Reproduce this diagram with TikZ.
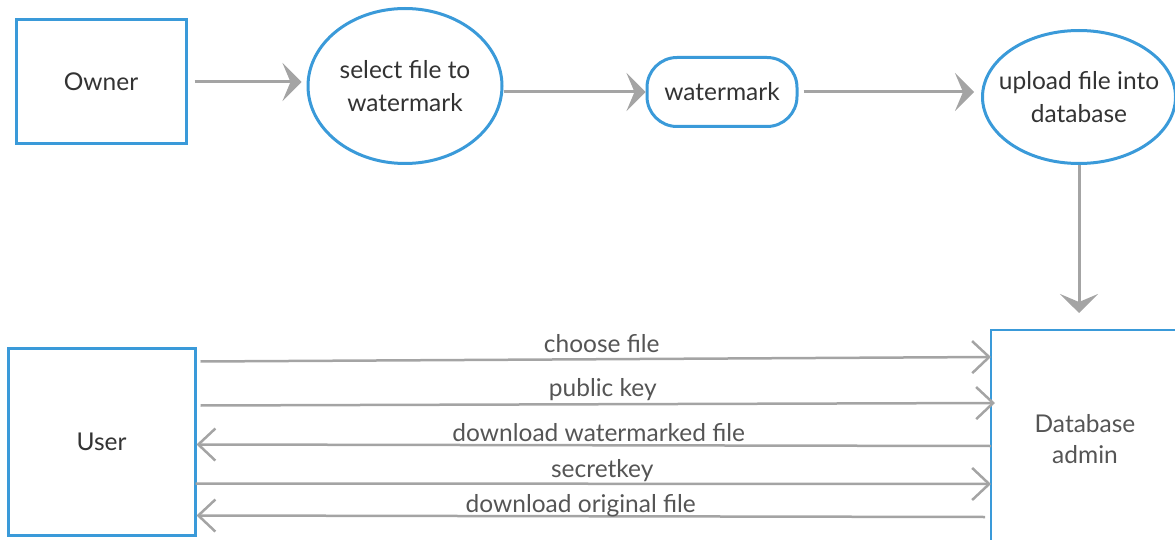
\documentclass[tikz,border=0pt]{standalone}
\usepackage{fontspec}
\setmainfont{Lato}
\usetikzlibrary{arrows.meta,shapes.geometric,calc}
\definecolor{boxblue}{HTML}{3A9AD9}
\definecolor{linegray}{HTML}{A4A4A4}
\definecolor{txt}{HTML}{333333}
\definecolor{lbl}{HTML}{555555}
\tikzset{
  blue box/.style={draw=boxblue, line width=3pt, text=txt, font=\fontsize{24.5}{29}\selectfont, align=center, inner sep=0pt},
  flowarrow/.style={draw=linegray, line width=3pt, -{Stealth[length=19pt,width=38pt,inset=8pt]}},
  msgarrow/.style={draw=linegray, line width=2.5pt, -{Straight Barb[length=17pt,width=32pt,line width=2.5pt]}},
  msglabel/.style={text=lbl, font=\fontsize{24.5}{29}\selectfont, inner sep=0pt, anchor=base}
}
\begin{document}
\begin{tikzpicture}[x=1pt,y=-1pt]
\useasboundingbox (0,0) rectangle (1175,540);
% top row
\node[blue box, minimum width=170pt, minimum height=124pt] (owner) at (101,82) {Owner};
\node[blue box, ellipse, inner xsep=-4pt, minimum width=194pt, minimum height=155pt] (sel) at (405,86) {select file to\\[4pt]watermark};
\node[blue box, rounded corners=30pt, minimum width=150pt, minimum height=69pt] (wm) at (722,92) {watermark};
\node[blue box, ellipse, inner xsep=-14pt, minimum width=193pt, minimum height=133pt] (up) at (1079,97) {upload file into\\[4pt]database};
% bottom row
\node[blue box, minimum width=187pt, minimum height=187pt] (user) at (101.5,441.5) {User};
\node[text=lbl, font=\fontsize{24.5}{29}\selectfont, align=center, inner sep=0pt] (dbtext) at (1085,439) {Database\\[2pt]admin};
\coordinate (db) at (991,330);
\draw[boxblue, line width=2.5pt] (991,545) -- (db) -- (1180,330);
% top flows
\draw[flowarrow] ([xshift=7pt]owner.east) -- ([xshift=-5pt]sel.west |- owner.east);
\draw[flowarrow] (sel.east |- wm.west) -- (wm.west);
\draw[flowarrow] ([xshift=5pt]wm.east) -- ([xshift=-7pt]up.west |- wm.east);
\draw[flowarrow] (up.south) -- ([yshift=17pt]up.south |- db);
% messages
\draw[msgarrow] ([xshift=4pt,yshift=-15pt]user.north east) -- node[msglabel, yshift=7pt, xshift=6pt]{choose file} ([yshift=-27pt]db);
\draw[msgarrow] ([xshift=4pt,yshift=-59pt]user.north east) -- node[msglabel, yshift=8pt, xshift=5pt]{public key} ([xshift=4pt,yshift=-73pt]db);
\draw[msgarrow] ([yshift=-116pt]db) -- node[msglabel, yshift=4pt, xshift=5pt]{download watermarked file} ([yshift=-98pt]user.north east);
\draw[msgarrow] ([xshift=-1pt,yshift=-137pt]user.north east) -- node[msglabel, yshift=6pt, xshift=9pt]{secretkey} ([yshift=-154pt]db);
\draw[msgarrow] ([xshift=-6pt,yshift=-187pt]db) -- node[msglabel, yshift=4pt, xshift=-10pt]{download original file} ([yshift=-169pt]user.north east);
\end{tikzpicture}
\end{document}
